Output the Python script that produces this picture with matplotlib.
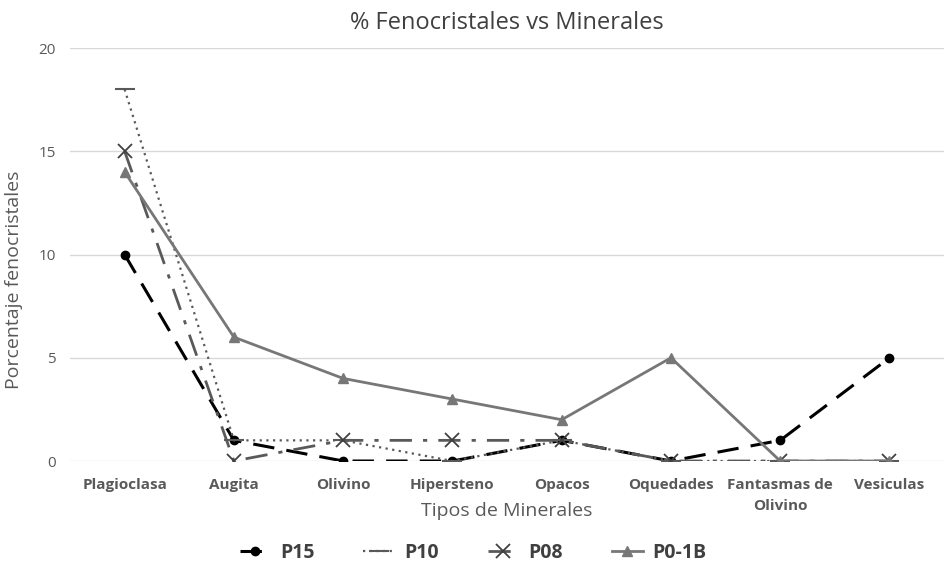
import matplotlib
matplotlib.use("Agg")
import matplotlib.pyplot as plt

plt.rcParams['font.family'] = ['Open Sans', 'DejaVu Sans']

minerales = ['Plagioclasa', 'Augita', 'Olivino', 'Hipersteno', 'Opacos',
             'Oquedades', 'Fantasmas de\nOlivino', 'Vesiculas']
p15 = [10, 1, 0, 0, 1, 0, 1, 5]
p10 = [18, 1, 1, 0, 1, 0, 0, 0]
p08 = [15, 0, 1, 1, 1, 0, 0, 0]
p01b = [14, 6, 4, 3, 2, 5, 0, 0]

fig = plt.figure(figsize=(9.46, 5.66), dpi=100)
ax = fig.add_axes([0.074, 0.1855, 0.924, 0.7295])
x = range(len(minerales))

ax.plot(x, p15, color='black', lw=2.2, dashes=(7, 4), marker='o', ms=6, label='P15')
ax.plot(x, p10, color='#595959', lw=1.6, ls=(0, (1, 2)), marker='_', ms=14, mew=1.5, label='P10')
ax.plot(x, p08, color='#595959', lw=2.0, ls=(0, (8, 4, 1.5, 4)), marker='x', ms=10,
        mew=1.3, mec='#404040', label='P08')
ax.plot(x, p01b, color='#777777', lw=2.0, marker='^', ms=7, label='P0-1B')

ax.set_xlim(-0.5, len(minerales) - 0.5)
ax.set_ylim(0, 20)
ax.set_yticks([0, 5, 10, 15, 20])
ax.grid(axis='y', color='#d9d9d9', lw=1)
ax.set_axisbelow(True)
for s in ax.spines.values():
    s.set_visible(False)
ax.tick_params(length=0, colors='#595959', labelsize=11)
ax.set_xticks(list(x))
ax.set_xticklabels(minerales, fontweight='bold', fontsize=11, linespacing=1.7)
ax.tick_params(axis='x', pad=12)
ax.tick_params(axis='y', pad=10)

ax.set_title('% Fenocristales vs Minerales', fontsize=17, color='#404040', pad=14)
ax.set_xlabel('Tipos de Minerales', fontsize=14, color='#595959', labelpad=-8)
ax.set_ylabel('Porcentaje fenocristales', fontsize=14, color='#595959')
ax.yaxis.set_label_coords(-0.054, 0.44)

fig.legend(loc='lower center', ncol=4, frameon=False, bbox_to_anchor=(0.5, -0.025),
           prop={'weight': 'bold', 'size': 14}, labelcolor='#404040',
           handlelength=1.6, columnspacing=2.5, handletextpad=0.5)

fig.savefig('out.png', dpi=100)
